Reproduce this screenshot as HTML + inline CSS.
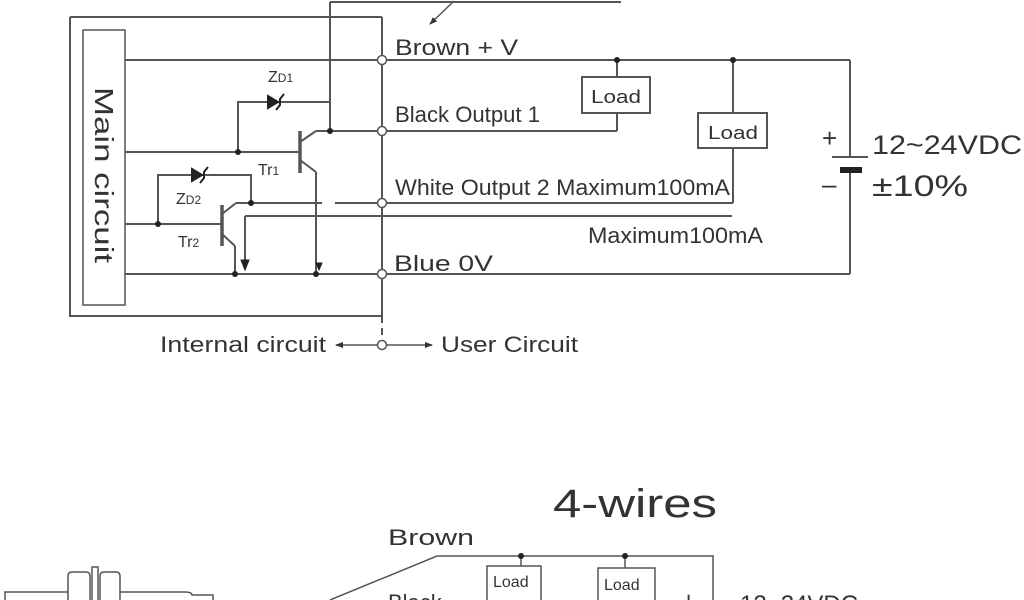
<!DOCTYPE html>
<html><head><meta charset="utf-8"><style>
html,body{margin:0;padding:0;background:#fff;}
svg{display:block}
text{font-family:"Liberation Sans",sans-serif;fill:#333;}
</style></head><body>
<svg width="1024" height="600" viewBox="0 0 1024 600" xmlns="http://www.w3.org/2000/svg">
<defs>
<marker id="ah" markerWidth="8" markerHeight="8" refX="7" refY="4" orient="auto" markerUnits="userSpaceOnUse"><path d="M0,1 L8,4 L0,7 z" fill="#333"/></marker>
</defs>
<g stroke="#555" stroke-width="2" fill="none">
<path d="M70,17 H382 M70,17 V316 H382"/>
<line x1="382" y1="17" x2="382" y2="316"/>
<rect x="83" y="30" width="42" height="275" stroke-width="1.5"/>
<line x1="125" y1="60" x2="850" y2="60"/>
<line x1="330" y1="131" x2="617" y2="131"/>
<line x1="125" y1="152" x2="300" y2="152"/>
<line x1="251" y1="203" x2="322" y2="203"/>
<line x1="335" y1="203" x2="733" y2="203"/>
<line x1="245" y1="216" x2="732" y2="216"/>
<line x1="245" y1="216" x2="245" y2="262"/>
<line x1="125" y1="224" x2="222" y2="224"/>
<line x1="125" y1="274" x2="850" y2="274"/>
<line x1="850" y1="60" x2="850" y2="157"/>
<line x1="850" y1="170" x2="850" y2="274"/>
<line x1="300" y1="131" x2="300" y2="173" stroke-width="3.5"/>
<line x1="300" y1="142" x2="316" y2="131"/>
<line x1="316" y1="131" x2="330" y2="131"/>
<line x1="300" y1="160" x2="316" y2="172"/>
<line x1="316" y1="172" x2="316" y2="274"/>
<line x1="330" y1="131" x2="330" y2="2"/>
<line x1="330" y1="2" x2="621" y2="2"/>
<path d="M238,152 V102 H330"/>
<line x1="222" y1="205" x2="222" y2="246" stroke-width="3.5"/>
<line x1="222" y1="214" x2="236" y2="203"/>
<line x1="236" y1="203" x2="251" y2="203"/>
<line x1="222" y1="234" x2="235" y2="246"/>
<line x1="235" y1="246" x2="235" y2="274"/>
<path d="M158,224 V175 H251 V203"/>
<rect x="582" y="77" width="68" height="36" fill="#fff"/>
<line x1="617" y1="113" x2="617" y2="131"/>
<line x1="617" y1="60" x2="617" y2="77"/>
<rect x="698" y="113" width="69" height="35" fill="#fff"/>
<line x1="733" y1="60" x2="733" y2="113"/>
<line x1="733" y1="148" x2="733" y2="203"/>
<line x1="832" y1="157" x2="868" y2="157"/>
<line x1="840" y1="170" x2="862" y2="170" stroke-width="6" stroke="#222"/>
<line x1="382" y1="316" x2="382" y2="340" stroke-dasharray="7,5"/>
<line x1="377" y1="345" x2="336" y2="345" stroke-width="1.5" marker-end="url(#ah)"/>
<line x1="387" y1="345" x2="432" y2="345" stroke-width="1.5" marker-end="url(#ah)"/>
<line x1="454" y1="1" x2="430" y2="24" stroke-width="1.5" marker-end="url(#ah)"/>
<path d="M330,600 L437,556 H713 V600" stroke-width="1.5"/>
<rect x="487" y="566" width="54" height="40" stroke-width="1.5"/>
<rect x="598" y="568" width="57" height="40" stroke-width="1.5"/>
<line x1="521" y1="556" x2="521" y2="566" stroke-width="1.5"/>
<line x1="625" y1="556" x2="625" y2="568" stroke-width="1.5"/>
<path d="M5,600 V592 H68 M120,592 H185 Q192,592 192,595 H213 V600" stroke-width="1.5"/>
<path d="M68,600 V576 Q68,572 72,572 H86 Q90,572 90,576 V600 M100,600 V576 Q100,572 104,572 H116 Q120,572 120,576 V600 M92,600 V567 H98 V600" stroke-width="1.5"/>
</g>
<g fill="#222" stroke="#222" stroke-width="2">
<path d="M268,96 L278,102 L268,108 z"/><path d="M276,110 L280,105 V99 L284,94" fill="none"/>
<path d="M192,169 L202,175 L192,181 z"/><path d="M200,183 L204,178 V172 L208,167" fill="none"/>
<path d="M316,263 L322,263 L319,270 z" stroke-width="1"/>
<path d="M241,260 L249,260 L245,270 z" stroke-width="1"/>
</g>
<g fill="#222">
<circle cx="330" cy="131" r="3"/><circle cx="238" cy="152" r="3"/>
<circle cx="158" cy="224" r="3"/><circle cx="251" cy="203" r="3"/>
<circle cx="235" cy="274" r="3"/><circle cx="316" cy="274" r="3"/>
<circle cx="617" cy="60" r="3"/><circle cx="733" cy="60" r="3"/>
<circle cx="521" cy="556" r="3"/><circle cx="625" cy="556" r="3"/>
</g>
<g fill="#fff" stroke="#555" stroke-width="1.5">
<circle cx="382" cy="60" r="4.5"/><circle cx="382" cy="131" r="4.5"/>
<circle cx="382" cy="203" r="4.5"/><circle cx="382" cy="274" r="4.5"/>
<circle cx="382" cy="345" r="4.5"/>
</g>
<text x="0" y="0" font-size="26" textLength="176" lengthAdjust="spacingAndGlyphs" transform="translate(95,87) rotate(90)">Main circuit</text>
<text x="268" y="82" font-size="16">Z<tspan font-size="12">D1</tspan></text>
<text x="258" y="175" font-size="16">Tr<tspan font-size="12">1</tspan></text>
<text x="176" y="204" font-size="16">Z<tspan font-size="12">D2</tspan></text>
<text x="178" y="247" font-size="16">Tr<tspan font-size="12">2</tspan></text>
<text x="395" y="55" font-size="22" textLength="123" lengthAdjust="spacingAndGlyphs">Brown  + V</text>
<text x="395" y="122" font-size="22" textLength="145" lengthAdjust="spacingAndGlyphs">Black  Output 1</text>
<text x="395" y="195" font-size="22" textLength="335" lengthAdjust="spacingAndGlyphs">White  Output 2  Maximum100mA</text>
<text x="588" y="243" font-size="22" textLength="175" lengthAdjust="spacingAndGlyphs">Maximum100mA</text>
<text x="394" y="271" font-size="22" textLength="99" lengthAdjust="spacingAndGlyphs">Blue  0V</text>
<text x="591" y="103" font-size="18" textLength="50" lengthAdjust="spacingAndGlyphs">Load</text>
<text x="708" y="139" font-size="18" textLength="50" lengthAdjust="spacingAndGlyphs">Load</text>
<text x="822" y="147" font-size="26">+</text>
<text x="822" y="193" font-size="26">–</text>
<text x="872" y="154" font-size="27" textLength="150" lengthAdjust="spacingAndGlyphs">12~24VDC</text>
<text x="872" y="196" font-size="30" textLength="96" lengthAdjust="spacingAndGlyphs">±10%</text>
<text x="160" y="352" font-size="22" textLength="166" lengthAdjust="spacingAndGlyphs">Internal circuit</text>
<text x="441" y="352" font-size="22" textLength="137" lengthAdjust="spacingAndGlyphs">User Circuit</text>
<text x="553" y="517" font-size="40" textLength="164" lengthAdjust="spacingAndGlyphs">4-wires</text>
<text x="388" y="545" font-size="22" textLength="86" lengthAdjust="spacingAndGlyphs">Brown</text>
<text x="388" y="610" font-size="22">Black</text>
<text x="493" y="587" font-size="16">Load</text>
<text x="604" y="590" font-size="16">Load</text>
<text x="681" y="610" font-size="26">+</text>
<text x="740" y="612" font-size="24">12~24VDC</text>
</svg>
</body></html>
